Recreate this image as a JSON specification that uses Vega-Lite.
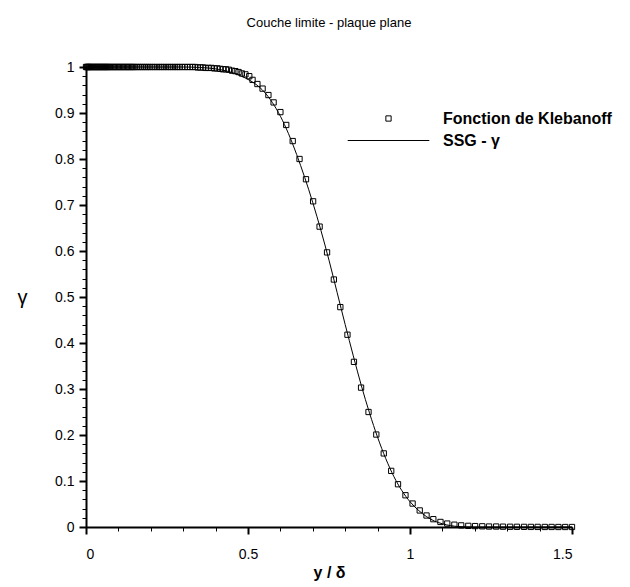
{
  "$schema": "https://vega.github.io/schema/vega-lite/v6.json",
  "width": 486,
  "height": 460,
  "autosize": {"type": "none"},
  "padding": {"left": 86, "top": 67, "right": 58, "bottom": 60},
  "background": "white",
  "title": {"text": "Couche limite - plaque plane", "fontSize": 13, "fontWeight": "normal", "font": "Liberation Sans", "color": "black", "anchor": "middle", "offset": 30},
  "config": {"view": {"stroke": null}, "font": "Liberation Sans", "axis": {"grid": false, "domainColor": "black", "tickColor": "black", "labelColor": "black", "titleColor": "black", "labelFont": "Liberation Sans", "titleFont": "Liberation Sans"}},
  "datasets": {
    "ssg": [
      {"x": 0, "g": 1}, {"x": 0.3, "g": 1}, {"x": 0.35, "g": 0.999}, {"x": 0.4, "g": 0.996}, {"x": 0.45, "g": 0.988},
      {"x": 0.5, "g": 0.973}, {"x": 0.525, "g": 0.962}, {"x": 0.55, "g": 0.946}, {"x": 0.575, "g": 0.923}, {"x": 0.6, "g": 0.893},
      {"x": 0.625, "g": 0.855}, {"x": 0.65, "g": 0.81}, {"x": 0.675, "g": 0.76}, {"x": 0.7, "g": 0.705}, {"x": 0.725, "g": 0.645},
      {"x": 0.75, "g": 0.58}, {"x": 0.775, "g": 0.51}, {"x": 0.8, "g": 0.44}, {"x": 0.825, "g": 0.372}, {"x": 0.85, "g": 0.307},
      {"x": 0.875, "g": 0.248}, {"x": 0.9, "g": 0.195}, {"x": 0.925, "g": 0.149}, {"x": 0.95, "g": 0.11}, {"x": 0.975, "g": 0.079},
      {"x": 1.0, "g": 0.055}, {"x": 1.025, "g": 0.037}, {"x": 1.05, "g": 0.023}, {"x": 1.075, "g": 0.013}, {"x": 1.1, "g": 0.007},
      {"x": 1.125, "g": 0.003}, {"x": 1.15, "g": 0.001}, {"x": 1.2, "g": 0}, {"x": 1.3, "g": 0}, {"x": 1.4, "g": 0}, {"x": 1.5, "g": 0}
    ],
    "kleb": [
      {"x": 0, "g": 1}, {"x": 0.002, "g": 1}, {"x": 0.004, "g": 1}, {"x": 0.006, "g": 1}, {"x": 0.008, "g": 1}, {"x": 0.01, "g": 1},
      {"x": 0.013, "g": 1}, {"x": 0.016, "g": 1}, {"x": 0.019, "g": 1}, {"x": 0.022, "g": 1}, {"x": 0.025, "g": 1}, {"x": 0.028, "g": 1},
      {"x": 0.031, "g": 1}, {"x": 0.034, "g": 1}, {"x": 0.037, "g": 1}, {"x": 0.04, "g": 1}, {"x": 0.043, "g": 1}, {"x": 0.046, "g": 1},
      {"x": 0.049, "g": 1}, {"x": 0.052, "g": 1}, {"x": 0.055, "g": 1}, {"x": 0.058, "g": 1}, {"x": 0.061, "g": 1}, {"x": 0.064, "g": 1},
      {"x": 0.067, "g": 1}, {"x": 0.07, "g": 1}, {"x": 0.074, "g": 1}, {"x": 0.078, "g": 1}, {"x": 0.082, "g": 1}, {"x": 0.086, "g": 1},
      {"x": 0.09, "g": 1}, {"x": 0.094, "g": 1}, {"x": 0.098, "g": 1}, {"x": 0.102, "g": 1}, {"x": 0.106, "g": 1}, {"x": 0.11, "g": 1},
      {"x": 0.114, "g": 1}, {"x": 0.118, "g": 1}, {"x": 0.122, "g": 1}, {"x": 0.126, "g": 1}, {"x": 0.13, "g": 1}, {"x": 0.134, "g": 1},
      {"x": 0.138, "g": 1}, {"x": 0.142, "g": 1}, {"x": 0.146, "g": 1}, {"x": 0.15, "g": 1},
      {"x": 0.156, "g": 1}, {"x": 0.162, "g": 1}, {"x": 0.168, "g": 1}, {"x": 0.174, "g": 1}, {"x": 0.18, "g": 1}, {"x": 0.186, "g": 1},
      {"x": 0.192, "g": 1}, {"x": 0.198, "g": 1}, {"x": 0.205, "g": 1}, {"x": 0.212, "g": 1}, {"x": 0.219, "g": 1}, {"x": 0.226, "g": 1},
      {"x": 0.233, "g": 1}, {"x": 0.24, "g": 1}, {"x": 0.247, "g": 1}, {"x": 0.254, "g": 1}, {"x": 0.261, "g": 1}, {"x": 0.268, "g": 1},
      {"x": 0.275, "g": 1}, {"x": 0.282, "g": 1}, {"x": 0.289, "g": 1}, {"x": 0.297, "g": 1}, {"x": 0.305, "g": 1}, {"x": 0.313, "g": 1},
      {"x": 0.321, "g": 1}, {"x": 0.329, "g": 1}, {"x": 0.337, "g": 1}, {"x": 0.345, "g": 0.999}, {"x": 0.353, "g": 0.999}, {"x": 0.361, "g": 0.999},
      {"x": 0.369, "g": 0.998}, {"x": 0.378, "g": 0.998}, {"x": 0.387, "g": 0.998}, {"x": 0.396, "g": 0.997}, {"x": 0.405, "g": 0.997},
      {"x": 0.414, "g": 0.996}, {"x": 0.423, "g": 0.995}, {"x": 0.432, "g": 0.995}, {"x": 0.441, "g": 0.994}, {"x": 0.451, "g": 0.992},
      {"x": 0.461, "g": 0.991}, {"x": 0.471, "g": 0.989}, {"x": 0.481, "g": 0.986}, {"x": 0.492, "g": 0.984},
      {"x": 0.504, "g": 0.98}, {"x": 0.514, "g": 0.972}, {"x": 0.529, "g": 0.963}, {"x": 0.545, "g": 0.953}, {"x": 0.563, "g": 0.939},
      {"x": 0.579, "g": 0.923}, {"x": 0.6, "g": 0.902}, {"x": 0.618, "g": 0.874}, {"x": 0.638, "g": 0.839}, {"x": 0.659, "g": 0.8},
      {"x": 0.679, "g": 0.756}, {"x": 0.701, "g": 0.708}, {"x": 0.721, "g": 0.653}, {"x": 0.744, "g": 0.597}, {"x": 0.765, "g": 0.538},
      {"x": 0.785, "g": 0.478}, {"x": 0.807, "g": 0.418}, {"x": 0.827, "g": 0.359}, {"x": 0.849, "g": 0.303}, {"x": 0.872, "g": 0.25},
      {"x": 0.896, "g": 0.201}, {"x": 0.919, "g": 0.16}, {"x": 0.942, "g": 0.122}, {"x": 0.963, "g": 0.093}, {"x": 0.986, "g": 0.069},
      {"x": 1.008, "g": 0.051}, {"x": 1.03, "g": 0.036}, {"x": 1.051, "g": 0.025}, {"x": 1.072, "g": 0.017}, {"x": 1.094, "g": 0.011},
      {"x": 1.115, "g": 0.0075}, {"x": 1.137, "g": 0.005}, {"x": 1.158, "g": 0.0035}, {"x": 1.18, "g": 0.0025}, {"x": 1.201, "g": 0.002},
      {"x": 1.223, "g": 0.0015}, {"x": 1.244, "g": 0.001}, {"x": 1.266, "g": 0.001}, {"x": 1.287, "g": 0.0007}, {"x": 1.309, "g": 0.0005},
      {"x": 1.33, "g": 0.0004}, {"x": 1.352, "g": 0.0003}, {"x": 1.373, "g": 0.0002}, {"x": 1.394, "g": 0.0002}, {"x": 1.416, "g": 0.0001},
      {"x": 1.437, "g": 0.0001}, {"x": 1.458, "g": 0}, {"x": 1.479, "g": 0}, {"x": 1.5, "g": 0}
    ]
  },
  "layer": [
    {
      "data": {"name": "ssg"},
      "mark": {"type": "line", "color": "black", "strokeWidth": 1, "interpolate": "monotone", "clip": false},
      "encoding": {
        "x": {"field": "x", "type": "quantitative", "scale": {"domain": [0, 1.5], "nice": false, "zero": false},
          "axis": {"orient": "bottom", "values": [0, 0.5, 1, 1.5], "format": "~g", "domain": true, "domainWidth": 2, "tickSize": 7, "tickWidth": 2, "labelFontSize": 14, "labelPadding": 13, "title": "y / δ", "titleFontSize": 16, "titleFontWeight": "bold", "titlePadding": 3}},
        "y": {"field": "g", "type": "quantitative", "scale": {"domain": [0, 1], "nice": false, "zero": false},
          "axis": {"orient": "left", "values": [0, 0.1, 0.2, 0.3, 0.4, 0.5, 0.6, 0.7, 0.8, 0.9, 1], "format": ".1~f", "domain": true, "domainWidth": 2, "tickSize": 7, "tickWidth": 2, "labelFontSize": 14, "labelPadding": 5, "title": "γ", "titleAngle": 0, "titleFontSize": 20, "titleFontWeight": "normal", "titleX": -64, "titleY": 230, "titleAlign": "center", "titleBaseline": "middle"}}
      }
    },
    {
      "data": {"name": "kleb"},
      "mark": {"type": "point", "filled": false, "color": "black", "strokeWidth": 1, "opacity": 1, "size": 256, "clip": false},
      "encoding": {
        "x": {"field": "x", "type": "quantitative",
          "axis": {"orient": "bottom", "values": [0, 0.1, 0.2, 0.3, 0.4, 0.5, 0.6, 0.7, 0.8, 0.9, 1, 1.1, 1.2, 1.3, 1.4, 1.5], "domain": false, "labels": false, "tickSize": 4, "tickWidth": 1, "title": null}},
        "y": {"field": "g", "type": "quantitative",
          "axis": {"orient": "left", "values": [0, 0.02, 0.04, 0.06, 0.08, 0.1, 0.12, 0.14, 0.16, 0.18, 0.2, 0.22, 0.24, 0.26, 0.28, 0.3, 0.32, 0.34, 0.36, 0.38, 0.4, 0.42, 0.44, 0.46, 0.48, 0.5, 0.52, 0.54, 0.56, 0.58, 0.6, 0.62, 0.64, 0.66, 0.68, 0.7, 0.72, 0.74, 0.76, 0.78, 0.8, 0.82, 0.84, 0.86, 0.88, 0.9, 0.92, 0.94, 0.96, 0.98, 1], "domain": false, "labels": false, "tickSize": 4, "tickWidth": 1, "title": null}},
        "shape": {"datum": "Fonction de Klebanoff", "type": "nominal",
          "scale": {"domain": ["Fonction de Klebanoff", "SSG - γ"], "range": ["M-0.33,-0.33H0.33V0.33H-0.33Z", "M-5.1,0H5.1"]},
          "legend": {"orient": "none", "legendX": 294, "legendY": 43, "title": null, "padding": 0, "symbolSize": 256, "symbolStrokeColor": "black", "symbolFillColor": "transparent", "symbolStrokeWidth": 1, "labelFontSize": 16, "labelFontWeight": "bold", "labelFont": "Liberation Sans", "labelColor": "black", "labelOffset": 46, "labelLimit": 400, "rowPadding": 5}}
      }
    }
  ],
  "resolve": {"axis": {"x": "independent", "y": "independent"}}
}
